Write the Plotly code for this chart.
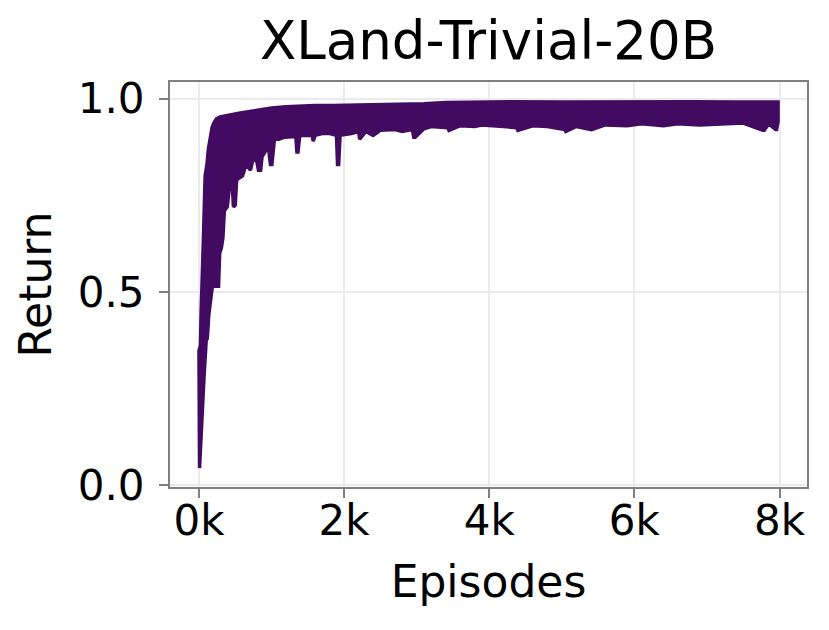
import plotly.graph_objects as go

# upper edge of the noisy return band
ep_high = [0, 20, 30, 45, 60, 85, 110, 130, 155, 180, 200, 240, 290, 400, 550,
           700, 850, 1000, 1200, 1400, 1600, 1850, 2100, 2400, 2800, 3100, 3400,
           3800, 4300, 5000, 5600, 6200, 6800, 7400, 7980]
ret_high = [0.35, 0.36, 0.45, 0.60, 0.63, 0.80, 0.83, 0.87, 0.905, 0.925, 0.935,
            0.948, 0.953, 0.956, 0.962, 0.967, 0.972, 0.976, 0.979, 0.981, 0.982,
            0.982, 0.983, 0.984, 0.985, 0.987, 0.990, 0.991, 0.992, 0.991, 0.992,
            0.991, 0.992, 0.991, 0.991]

# lower edge, including the dips
ep_low = [0, 8, 25, 45, 70, 100, 115, 135, 165, 185, 270, 285, 310, 330, 350,
          390, 420, 460, 475, 500, 520, 600, 650, 690, 710, 740, 790, 820, 850,
          870, 920, 960, 985, 1005, 1040, 1100, 1170, 1250, 1335, 1350, 1365,
          1390, 1500, 1560, 1575, 1600, 1700, 1800, 1895, 1910, 1925, 1945, 2100,
          2200, 2215, 2300, 2400, 2500, 2700, 2800, 2940, 2960, 2980, 3100, 3200,
          3430, 3445, 3600, 3800, 3900, 4100, 4380, 4395, 4600, 4800, 5040, 5055,
          5200, 5410, 5425, 5600, 5900, 6100, 6400, 6600, 6900, 7200, 7500, 7770,
          7790, 7850, 7945, 7960, 7980]
ret_low = [0.35, 0.045, 0.09, 0.17, 0.28, 0.375, 0.38, 0.44, 0.49, 0.515, 0.515,
           0.60, 0.615, 0.64, 0.71, 0.72, 0.77, 0.775, 0.72, 0.725, 0.79, 0.80,
           0.83, 0.82, 0.815, 0.84, 0.845, 0.815, 0.815, 0.85, 0.865, 0.87, 0.83,
           0.83, 0.895, 0.895, 0.90, 0.90, 0.902, 0.862, 0.862, 0.905, 0.905,
           0.905, 0.89, 0.905, 0.91, 0.91, 0.905, 0.83, 0.83, 0.905, 0.91, 0.915,
           0.895, 0.915, 0.905, 0.918, 0.92, 0.915, 0.92, 0.90, 0.90, 0.922, 0.928,
           0.925, 0.918, 0.93, 0.928, 0.932, 0.928, 0.925, 0.918, 0.93, 0.928,
           0.92, 0.915, 0.928, 0.92, 0.922, 0.932, 0.93, 0.935, 0.93, 0.935, 0.932,
           0.935, 0.937, 0.918, 0.918, 0.935, 0.92, 0.92, 0.94]

x_ticks = [0, 2000, 4000, 6000, 8000]
x_labels = ["0k", "2k", "4k", "6k", "8k"]
y_ticks = [0.0, 0.5, 1.0]

COLOR = "#420b61"
FONT = "DejaVu Sans"

fig = go.Figure()

# band as one closed shape: upper edge left->right, lower edge right->left
fig.add_trace(go.Scatter(
    x=ep_high + ep_low[::-1],
    y=ret_high + ret_low[::-1],
    mode="lines",
    fill="toself",
    fillcolor=COLOR,
    line=dict(color=COLOR, width=3.5),
    showlegend=False,
    hoverinfo="skip",
))

axis_common = dict(
    showline=True, mirror=True, linecolor="#808080", linewidth=2,
    showgrid=True, gridcolor="#ebebeb", gridwidth=2,
    ticks="outside", ticklen=9, tickwidth=2, tickcolor="#808080",
    zeroline=False, automargin=False,
    tickfont=dict(family=FONT, size=42, color="black"),
)

fig.update_layout(
    width=829, height=630,
    paper_bgcolor="white", plot_bgcolor="white",
    margin=dict(l=170, r=22, t=82, b=143),
    title=dict(text="XLand-Trivial-20B", x=0.5, xref="paper", xanchor="center",
               y=1 - 40 / 630, yref="container", yanchor="middle",
               font=dict(family=FONT, size=53, color="black")),
    xaxis=dict(range=[-399, 8379], tickvals=x_ticks, ticktext=x_labels,
               ticklabelstandoff=-13,
               title=dict(text="Episodes", standoff=22,
                          font=dict(family=FONT, size=44, color="black")),
               **axis_common),
    yaxis=dict(range=[-0.004, 1.043], tickvals=y_ticks, tickformat=".1f",
               ticklabelstandoff=6,
               title=dict(text="Return", standoff=12,
                          font=dict(family=FONT, size=44, color="black")),
               **axis_common),
)

# drop the browser's default body margin so the figure sits at 0,0
fig.write_html("out.html", config={"displayModeBar": False},
               post_script="document.body.style.margin='0';")
